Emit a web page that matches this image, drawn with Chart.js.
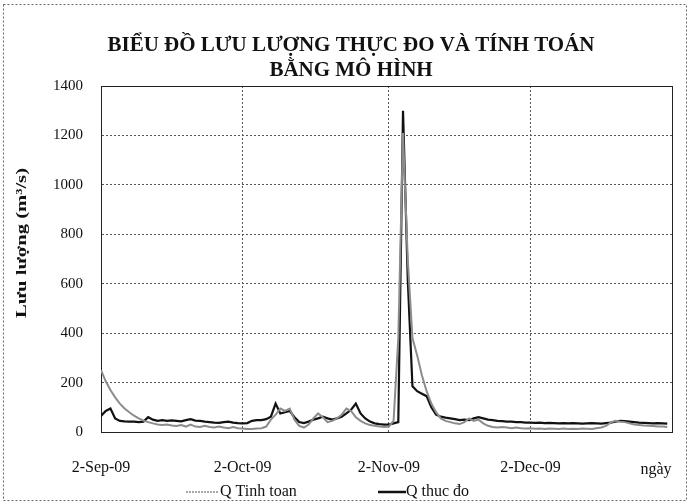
<!DOCTYPE html>
<html>
<head>
<meta charset="utf-8">
<script src="https://cdn.jsdelivr.net/npm/chart.js@4"></script>
<style>
  html, body { margin: 0; padding: 0; background: #fff; }
  #c { display: block; }
</style>
</head>
<body>
<canvas id="c" width="690" height="504"></canvas>
<script>
// days counted from 2-Sep-09
const days = [];
for (let d = 0; d <= 120; d++) days.push(d);

const qThucDo = [
  65, 85, 95, 55, 45, 43, 42, 42, 40, 42,
  60, 50, 45, 48, 45, 47, 45, 43, 48, 52,
  46, 45, 42, 40, 38, 37, 40, 42, 38, 36,
  35, 36, 45, 48, 48, 52, 62, 115, 75, 80,
  85, 60, 40, 36, 42, 50, 55, 62, 55, 50,
  55, 62, 75, 90, 115, 75, 55, 42, 35, 32,
  30, 30, 35, 40, 1300, 620, 185, 165, 155, 145,
  100, 70, 62, 58, 55, 52, 48, 50, 48, 55,
  60, 55, 50, 48, 45, 44, 42, 42, 40, 40,
  38, 38, 37, 38, 36, 37, 36, 35, 36, 35,
  36, 35, 34, 35, 36, 35, 34, 36, 38, 42,
  45, 44, 42, 40, 38, 37, 36, 35, 36, 35,
  34
];

const qTinhToan = [
  250, 205, 170, 140, 115, 95, 80, 66, 55, 46,
  40, 35, 30, 28, 30, 26, 24, 28, 22, 30,
  22, 20, 25, 20, 18, 22, 18, 15, 20, 15,
  14, 12, 12, 14, 15, 22, 50, 70, 95, 85,
  95, 50, 25, 18, 30, 55, 75, 60, 40, 45,
  55, 70, 95, 85, 60, 45, 35, 28, 25, 22,
  20, 22, 45, 380, 1210, 700, 380, 310, 230, 165,
  115, 80, 55, 45, 40, 35, 32, 40, 55, 45,
  50, 35, 25, 20, 18, 20, 18, 15, 18, 15,
  14, 15, 13, 14, 12, 14, 13, 12, 14, 12,
  13, 12, 14, 13, 12, 15, 18, 25, 38, 45,
  42, 40, 35, 30, 28, 26, 25, 24, 22, 22,
  20
];

const tickDays = [0, 30, 61, 91];
const tickLabels = ['2-Sep-09', '2-Oct-09', '2-Nov-09', '2-Dec-09'];

const yTicks = [0, 200, 400, 600, 800, 1000, 1200, 1400];

const SERIF = '"Liberation Serif", "Times New Roman", serif';

// draw text stretched horizontally to a given width
function stretchText(ctx, text, x, y, width, sx) {
  const w = ctx.measureText(text).width;
  const k = sx || width / w;
  ctx.save();
  ctx.translate(x, y);
  ctx.scale(k, 1);
  ctx.fillText(text, 0, 0);
  ctx.restore();
  return k;
}

const decorations = {
  id: 'decorations',
  beforeDatasetsDraw(chart) {
    const { ctx, chartArea: a } = chart;
    ctx.save();
    ctx.strokeStyle = '#222';
    ctx.lineWidth = 1;
    ctx.strokeRect(Math.round(a.left) + 0.5, Math.round(a.top) + 0.5,
      Math.round(a.right - a.left), Math.round(a.bottom - a.top));
    ctx.restore();
  },
  afterDraw(chart) {
    const { ctx } = chart;
    ctx.save();

    // outer chart border
    ctx.strokeStyle = '#666';
    ctx.lineWidth = 1;
    ctx.setLineDash([2, 2]);
    ctx.strokeRect(3.5, 4.5, 683, 496);
    ctx.setLineDash([]);

    // title
    ctx.fillStyle = '#111';
    ctx.textAlign = 'center';
    ctx.textBaseline = 'middle';
    ctx.font = 'bold 20px ' + SERIF;
    const k = stretchText(ctx, 'BIỂU ĐỒ LƯU LƯỢNG THỰC ĐO VÀ TÍNH TOÁN', 351, 46, 487);
    stretchText(ctx, 'BẰNG MÔ HÌNH', 351, 71, 0, k);

    // y axis title
    ctx.save();
    ctx.translate(22, 243);
    ctx.rotate(-Math.PI / 2);
    ctx.font = 'bold 14px ' + SERIF;
    stretchText(ctx, 'Lưu lượng (m³/s)', 0, 0, 150);
    ctx.restore();

    // x axis title
    ctx.font = '16px ' + SERIF;
    ctx.fillText('ngày', 656, 470);

    // legend
    ctx.textAlign = 'left';
    ctx.font = '16px ' + SERIF;
    ctx.strokeStyle = '#8c8c8c';
    ctx.lineWidth = 1.5;
    ctx.setLineDash([2, 1]);
    ctx.beginPath(); ctx.moveTo(186, 492); ctx.lineTo(218, 492); ctx.stroke();
    ctx.setLineDash([]);
    ctx.fillText('Q Tinh toan', 220, 492);
    ctx.strokeStyle = '#111';
    ctx.lineWidth = 2.5;
    ctx.beginPath(); ctx.moveTo(378, 492); ctx.lineTo(406, 492); ctx.stroke();
    ctx.fillText('Q thuc đo', 406, 492);

    ctx.restore();
  }
};

new Chart(document.getElementById('c'), {
  type: 'line',
  data: {
    datasets: [
      {
        label: 'Q Tinh toan',
        data: days.map((d, i) => ({ x: d, y: qTinhToan[i] })),
        borderColor: '#8c8c8c',
        borderWidth: 2,
        pointRadius: 0,
        tension: 0
      },
      {
        label: 'Q thuc đo',
        data: days.map((d, i) => ({ x: d, y: qThucDo[i] })),
        borderColor: '#111',
        borderWidth: 2.2,
        pointRadius: 0,
        tension: 0
      }
    ]
  },
  options: {
    responsive: false,
    animation: false,
    devicePixelRatio: 1,
    layout: { padding: { top: 86, right: 18, left: 0, bottom: 0 } },
    plugins: {
      legend: { display: false },
      title: { display: false },
      tooltip: { enabled: false }
    },
    scales: {
      x: {
        type: 'linear',
        min: 0,
        max: 121,
        afterFit(scale) { scale.height = 72; },
        afterBuildTicks(scale) { scale.ticks = tickDays.map(v => ({ value: v })); },
        ticks: {
          autoSkip: false,
          maxRotation: 0,
          padding: 26,
          color: '#111',
          font: { family: SERIF, size: 16 },
          callback: (v) => tickLabels[tickDays.indexOf(v)]
        },
        grid: { drawTicks: false, color: '#555', lineWidth: 1 },
        border: { display: true, color: '#222', dash: [2, 2] }
      },
      y: {
        min: 0,
        max: 1400,
        afterFit(scale) { scale.width = 101; },
        afterBuildTicks(scale) { scale.ticks = yTicks.map(v => ({ value: v })); },
        ticks: {
          padding: 18,
          color: '#111',
          font: { family: SERIF, size: 15 },
          callback: (v) => String(v)
        },
        grid: { drawTicks: false, color: '#555', lineWidth: 1 },
        border: { display: true, color: '#222', dash: [2, 2] }
      }
    }
  },
  plugins: [decorations]
});
</script>
</body>
</html>
